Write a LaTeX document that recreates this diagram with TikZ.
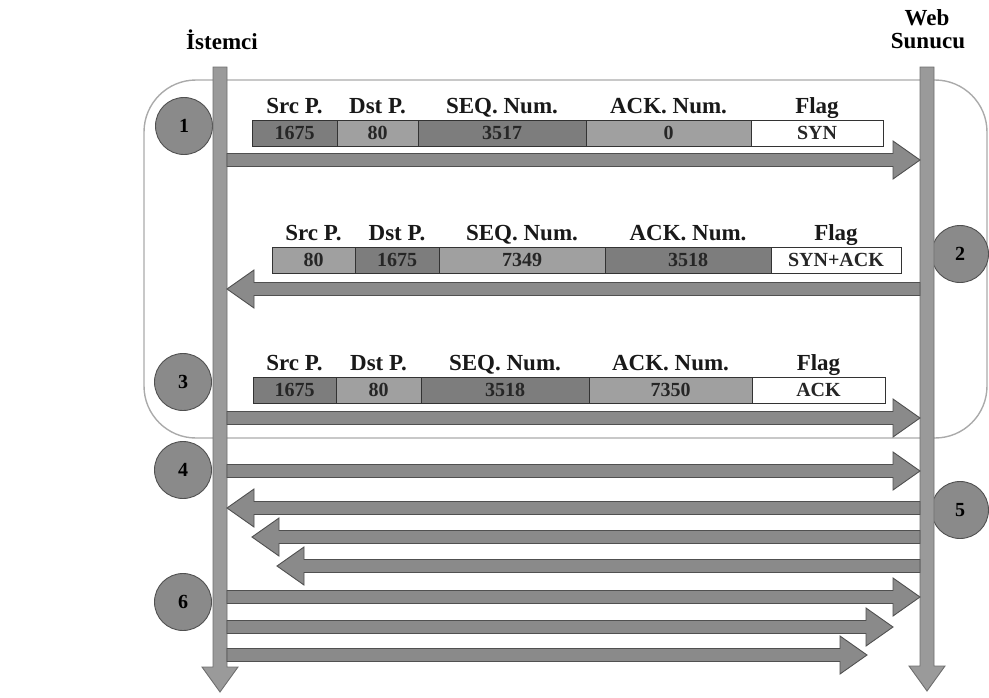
\documentclass[tikz,border=0pt]{standalone}
\usepackage{fontspec}
\setmainfont{Liberation Serif}
\usetikzlibrary{calc}
\definecolor{dkcell}{HTML}{7D7D7D}
\definecolor{ltcell}{HTML}{A0A0A0}
\definecolor{arrfill}{HTML}{8A8A8A}
\definecolor{arrline}{HTML}{505050}
\definecolor{tlfill}{HTML}{9A9A9A}
\definecolor{tlline}{HTML}{6E6E6E}
\definecolor{framecol}{HTML}{AAAAAA}
\tikzset{
 arrstyle/.style={fill=arrfill, draw=arrline, line width=0.9pt, line join=miter},
 tlstyle/.style={fill=tlfill, draw=tlline, line width=0.9pt},
 cell/.style={draw=black!80, line width=0.8pt, minimum height=26pt, inner sep=0pt, font=\fontsize{20}{20}\selectfont\bfseries, text=black!85},
 hdr/.style={anchor=base, inner sep=0pt, font=\fontsize{23}{23}\selectfont\bfseries, text=black!90},
 numc/.style={circle, fill=arrfill, draw=arrline, line width=0.9pt, minimum size=57pt, inner sep=0pt, font=\fontsize{20}{20}\selectfont\bfseries},
 titletext/.style={anchor=base, inner sep=0pt, font=\fontsize{23}{23}\selectfont\bfseries},
 framebox/.style={draw=framecol, line width=1.4pt, rounded corners=52pt}
}
\newcommand\blockarrow[2]{%
 \path[arrstyle] let \p1=(#1), \p2=(#2), \n1={sign(\x2-\x1)} in
 (\x1,\y1+6.5pt) -- (\x2-\n1*27pt,\y1+6.5pt) -- (\x2-\n1*27pt,\y1+19pt) -- (\x2,\y2)
 -- (\x2-\n1*27pt,\y1-19pt) -- (\x2-\n1*27pt,\y1-6.5pt) -- (\x1,\y1-6.5pt) -- cycle;}
\newcommand\timeline[2]{%
 \path[tlstyle] let \p1=(#1), \p2=(#2) in
 (\x1-7pt,\y1) -- (\x1+7pt,\y1) -- (\x1+7pt,\y2+25pt) -- (\x1+18pt,\y2+25pt) -- (\x2,\y2)
 -- (\x1-18pt,\y2+25pt) -- (\x1-7pt,\y2+25pt) -- cycle;}
\begin{document}
\begin{tikzpicture}[x=1pt,y=-1pt]
\useasboundingbox (0,0) rectangle (989,697);
% frame
\draw[framebox] (144,80) rectangle (987,438);
% titles
\node[titletext] (client) at (222,49) {İstemci};
\node[titletext] (web1) at (927,25) {Web};
\node[titletext] (web2) at (928,48) {Sunucu};
% step circles
\node[numc] (c1) at (184,126) {1};
\node[numc] (c2) at (960,254) {2};
\node[numc] (c3) at (183,382) {3};
\node[numc] (c4) at (183,470) {4};
\node[numc] (c5) at (960,510) {5};
\node[numc] (c6) at (183,602) {6};
% timelines
\coordinate (Ltop) at (220,67); \coordinate (Ltip) at (220,692);
\coordinate (Rtop) at (927,67); \coordinate (Rtip) at (927,691);
\timeline{Ltop}{Ltip}
\timeline{Rtop}{Rtip}
% arrows
\coordinate (a1s) at (227,160); \coordinate (a1e) at (920,160);
\coordinate (a2s) at (920,289); \coordinate (a2e) at (227,289);
\coordinate (a3s) at (227,418); \coordinate (a3e) at (920,418);
\coordinate (a4s) at (227,471); \coordinate (a4e) at (920,471);
\coordinate (a5s) at (920,508); \coordinate (a5e) at (227,508);
\coordinate (a6s) at (920,537); \coordinate (a6e) at (252,537);
\coordinate (a7s) at (920,566); \coordinate (a7e) at (277,566);
\coordinate (a8s) at (227,597); \coordinate (a8e) at (920,597);
\coordinate (a9s) at (227,627); \coordinate (a9e) at (893,627);
\coordinate (a10s) at (227,655); \coordinate (a10e) at (867,655);
\blockarrow{a1s}{a1e}
\blockarrow{a2s}{a2e}
\blockarrow{a3s}{a3e}
\blockarrow{a4s}{a4e}
\blockarrow{a5s}{a5e}
\blockarrow{a6s}{a6e}
\blockarrow{a7s}{a7e}
\blockarrow{a8s}{a8e}
\blockarrow{a9s}{a9e}
\blockarrow{a10s}{a10e}
% packet 1
\node[cell, fill=dkcell, minimum width=85pt] (p1a) at (294.5,133) {1675};
\node[cell, fill=ltcell, minimum width=81pt] (p1b) at (377.5,133) {80};
\node[cell, fill=dkcell, minimum width=168pt] (p1c) at (502,133) {3517};
\node[cell, fill=ltcell, minimum width=165pt] (p1d) at (668.5,133) {0};
\node[cell, fill=white, minimum width=132pt] (p1e) at (817,133) {SYN};
% packet 2
\node[cell, fill=ltcell, minimum width=83pt] (p2a) at (313.5,260) {80};
\node[cell, fill=dkcell, minimum width=84pt] (p2b) at (397,260) {1675};
\node[cell, fill=ltcell, minimum width=166pt] (p2c) at (522,260) {7349};
\node[cell, fill=dkcell, minimum width=166pt] (p2d) at (688,260) {3518};
\node[cell, fill=white, minimum width=130pt] (p2e) at (836,260) {SYN+ACK};
% packet 3
\node[cell, fill=dkcell, minimum width=83pt] (p3a) at (294.5,390) {1675};
\node[cell, fill=ltcell, minimum width=85pt] (p3b) at (378.5,390) {80};
\node[cell, fill=dkcell, minimum width=168pt] (p3c) at (505,390) {3518};
\node[cell, fill=ltcell, minimum width=163pt] (p3d) at (670.5,390) {7350};
\node[cell, fill=white, minimum width=133pt] (p3e) at (818.5,390) {ACK};
% headers
\foreach \r in {1,2,3}{
 \node[hdr] (h\r a) at ([yshift=6pt]p\r a.north) {Src P.};
 \node[hdr] (h\r b) at ([yshift=6pt]p\r b.north) {Dst P.};
 \node[hdr] (h\r c) at ([yshift=6pt]p\r c.north) {SEQ. Num.};
 \node[hdr] (h\r d) at ([yshift=6pt]p\r d.north) {ACK. Num.};
 \node[hdr] (h\r e) at ([yshift=6pt]p\r e.north) {Flag};
}
\end{tikzpicture}
\end{document}
